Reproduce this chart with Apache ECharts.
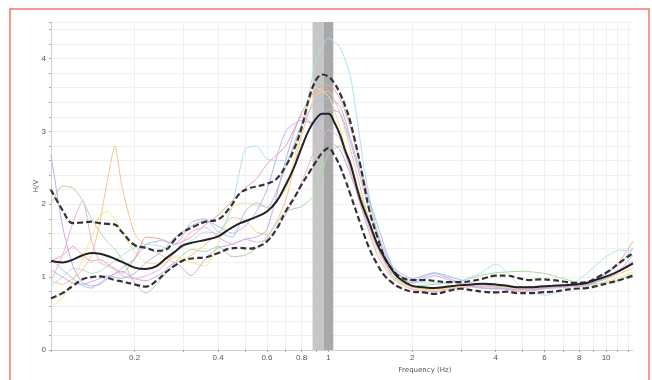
<!DOCTYPE html>
<html>
<head>
<meta charset="utf-8">
<title>H/V</title>
<script src="https://cdn.jsdelivr.net/npm/echarts@6/dist/echarts.min.js"></script>
<style>
  html, body { margin: 0; padding: 0; background: #fff; }
  #main { width: 652px; height: 380px; }
</style>
</head>
<body>
<div id="main"></div>
<script>
// frequencies (Hz) for the average curve and its +/- std curves
const freq = [0.1, 0.11, 0.12, 0.13, 0.14, 0.15, 0.16, 0.17, 0.18, 0.2, 0.22, 0.24, 0.26, 0.28,
  0.3, 0.33, 0.36, 0.4, 0.44, 0.48, 0.52, 0.56, 0.6, 0.65, 0.7, 0.75, 0.8, 0.85, 0.9, 0.95,
  1.0, 1.05, 1.1, 1.15, 1.2, 1.3, 1.4, 1.5, 1.6, 1.7, 1.8, 2.0, 2.2, 2.4, 2.7, 3.0, 3.3, 3.6,
  4.0, 4.4, 4.8, 5.3, 5.8, 6.4, 7.0, 7.7, 8.5, 9.3, 10.2, 11.2, 12.5];

const hvMean = [1.22, 1.20, 1.24, 1.30, 1.33, 1.32, 1.29, 1.25, 1.21, 1.13, 1.11, 1.15, 1.26, 1.35,
  1.44, 1.48, 1.51, 1.56, 1.66, 1.74, 1.79, 1.84, 1.90, 2.04, 2.26, 2.50, 2.78, 3.02, 3.17, 3.24,
  3.24, 3.12, 2.95, 2.73, 2.55, 2.07, 1.75, 1.45, 1.25, 1.09, 0.98, 0.88, 0.86, 0.85, 0.87, 0.89, 0.90, 0.91,
  0.90, 0.88, 0.86, 0.86, 0.87, 0.88, 0.89, 0.90, 0.92, 0.97, 1.02, 1.09, 1.19];

const hvUpper = [2.20, 1.92, 1.74, 1.75, 1.76, 1.74, 1.73, 1.72, 1.62, 1.44, 1.40, 1.36, 1.38, 1.52,
  1.62, 1.70, 1.76, 1.79, 1.95, 2.15, 2.22, 2.25, 2.28, 2.35, 2.52, 2.75, 3.05, 3.45, 3.70, 3.78,
  3.75, 3.66, 3.52, 3.34, 3.12, 2.55, 1.93, 1.55, 1.25, 1.10, 1.01, 0.96, 0.96, 0.95, 0.93, 0.93, 0.95, 0.98,
  1.02, 1.02, 0.99, 0.96, 0.97, 0.96, 0.94, 0.92, 0.93, 1.00, 1.08, 1.20, 1.33];

const hvLower = [0.71, 0.78, 0.88, 0.97, 1.00, 1.01, 0.99, 0.96, 0.94, 0.90, 0.87, 0.95, 1.07, 1.16,
  1.23, 1.26, 1.27, 1.33, 1.39, 1.40, 1.39, 1.42, 1.49, 1.66, 1.90, 2.08, 2.27, 2.43, 2.58, 2.71,
  2.77, 2.67, 2.52, 2.33, 2.13, 1.74, 1.40, 1.17, 1.01, 0.92, 0.86, 0.80, 0.79, 0.77, 0.81, 0.84, 0.82, 0.80,
  0.79, 0.80, 0.78, 0.78, 0.79, 0.80, 0.82, 0.84, 0.85, 0.88, 0.92, 0.96, 1.02];

// frequencies (Hz) for the individual time windows
const freqWin = [0.1, 0.11, 0.12, 0.13, 0.14, 0.15, 0.16, 0.17, 0.18, 0.2,
  0.22, 0.25, 0.28, 0.32, 0.36, 0.4, 0.45, 0.5, 0.55, 0.6,
  0.7, 0.8, 0.9, 1.0, 1.1, 1.2, 1.35, 1.5, 1.7, 2.0,
  2.4, 3.0, 3.5, 4.0, 5.0, 6.0, 7.0, 8.5, 10, 11.2, 12.5];

const winRed = [1.22, 1.30, 1.42, 1.30, 1.22, 1.24, 1.18, 1.12, 1.05, 1.25,
  1.55, 1.52, 1.45, 1.55, 1.72, 1.85, 2.05, 2.22, 2.35, 2.55,
  2.80, 3.25, 3.58, 3.64, 3.45, 3.05, 2.30, 1.62, 1.12, 0.88,
  0.82, 0.86, 0.87, 0.86, 0.80, 0.84, 0.88, 0.92, 1.05, 1.22, 1.49];
const winOrange = [0.95, 0.90, 0.98, 1.10, 1.30, 1.75, 2.35, 2.80, 2.25, 1.60,
  1.42, 1.30, 1.20, 1.30, 1.45, 1.60, 1.82, 1.78, 1.62, 1.58,
  2.05, 2.95, 3.50, 3.55, 3.25, 2.75, 2.00, 1.42, 1.02, 0.86,
  0.84, 0.88, 0.90, 0.88, 0.84, 0.86, 0.88, 0.90, 0.98, 1.05, 1.12];
const winYellow = [0.58, 0.72, 0.95, 1.25, 1.55, 1.85, 1.90, 1.80, 1.62, 1.35,
  1.20, 1.18, 1.28, 1.20, 1.15, 1.45, 1.95, 2.02, 1.98, 1.97,
  2.20, 3.05, 3.60, 3.48, 3.05, 2.45, 1.80, 1.35, 1.00, 0.84,
  0.82, 0.87, 0.88, 0.87, 0.85, 0.86, 0.86, 0.88, 0.94, 1.00, 1.07];
const winGreen = [2.00, 2.25, 2.22, 2.05, 1.80, 1.62, 1.48, 1.38, 1.25, 0.92,
  0.78, 0.98, 1.20, 1.38, 1.35, 1.42, 1.28, 1.30, 1.40, 1.55,
  1.90, 1.97, 2.15, 2.70, 2.80, 2.50, 1.95, 1.45, 1.02, 0.88,
  0.90, 0.95, 1.02, 1.06, 1.08, 1.05, 0.98, 0.90, 0.92, 0.96, 1.05];
const winCyan = [0.88, 1.00, 1.12, 1.10, 1.05, 1.08, 1.15, 1.22, 1.30, 1.40,
  1.45, 1.42, 1.35, 1.50, 1.62, 1.60, 2.00, 2.75, 2.80, 2.62,
  2.60, 3.07, 3.95, 4.28, 4.15, 3.75, 2.45, 1.60, 1.14, 0.92,
  0.92, 0.95, 1.05, 1.18, 0.85, 0.75, 0.82, 1.05, 1.28, 1.37, 1.36];
const winBlue = [1.25, 1.10, 0.98, 0.88, 0.85, 0.92, 1.00, 1.05, 1.12, 1.25,
  1.45, 1.50, 1.45, 1.75, 1.80, 1.62, 1.55, 1.90, 2.02, 1.95,
  2.50, 3.10, 3.40, 3.45, 3.35, 2.90, 2.25, 1.72, 1.15, 0.98,
  1.06, 0.96, 0.90, 0.88, 0.86, 0.85, 0.86, 0.92, 1.05, 1.18, 1.40];
const winPurple = [2.68, 1.70, 1.15, 0.92, 0.88, 0.90, 0.98, 1.05, 1.08, 0.98,
  0.95, 1.05, 1.20, 1.02, 1.25, 1.40, 1.45, 1.52, 1.55, 1.65,
  2.60, 3.20, 3.08, 2.88, 2.75, 2.40, 1.85, 1.40, 1.05, 0.92,
  1.02, 0.90, 0.85, 0.84, 0.86, 0.88, 0.87, 0.88, 1.00, 1.10, 1.30];
const winPink = [0.95, 1.30, 1.75, 2.05, 1.50, 1.20, 1.15, 1.10, 1.02, 0.98,
  1.02, 1.12, 1.35, 1.62, 1.68, 1.55, 1.45, 1.52, 1.48, 1.52,
  1.85, 2.30, 2.78, 3.02, 2.90, 2.45, 1.80, 1.30, 0.98, 0.83,
  0.80, 0.86, 0.88, 0.86, 0.82, 0.84, 0.86, 0.90, 0.98, 1.08, 1.18];
const winLavender = [1.10, 1.00, 0.92, 0.90, 0.94, 0.98, 1.02, 1.00, 0.98, 1.05,
  1.20, 1.35, 1.55, 1.70, 1.78, 1.70, 1.60, 1.70, 1.90, 2.20,
  3.00, 3.15, 3.10, 3.30, 3.25, 2.85, 2.15, 1.55, 1.10, 0.95,
  1.05, 0.92, 0.86, 0.84, 0.83, 0.85, 0.88, 0.90, 0.98, 1.10, 1.22];

// f0 peak and its std band (Hz)
const f0 = 0.96;
const f0Low = 0.876;
const f0High = 1.04;

const xTicks = [0.1, 0.2, 0.3, 0.4, 0.5, 0.6, 0.7, 0.8, 0.9, 1, 2, 3, 4, 5, 6, 7, 8, 9, 10, 11, 12];
const xLabels = [0.2, 0.4, 0.6, 0.8, 1, 2, 4, 6, 8, 10];

const windows = [winRed, winOrange, winYellow, winGreen, winCyan, winBlue, winPurple, winPink, winLavender];
const winColors = ['#f2a0a0', '#f9c18e', '#f2e58a', '#a6d99d', '#aee0f0', '#a7bfec', '#c9a8e6', '#ecaedb', '#b9b4ea'];

const pairs = (xs, ys) => xs.map((f, i) => [f, ys[i]]);

let myChart = echarts.init(document.getElementById('main'));

let _series = [];
// peak band, drawn behind the curves
_series.push({
  type: 'line',
  data: [],
  z: 1,
  silent: true,
  markArea: {
    silent: true,
    data: [
      [{ xAxis: f0Low, itemStyle: { color: '#c6c6c6' } }, { xAxis: f0 }],
      [{ xAxis: f0, itemStyle: { color: '#a9a9a9' } }, { xAxis: f0High }]
    ]
  }
});
windows.forEach((w, i) => {
  _series.push({
    type: 'line',
    data: pairs(freqWin, w),
    showSymbol: false,
    smooth: 0.2,
    z: 3,
    lineStyle: { color: winColors[i], width: 1 }
  });
});
[hvUpper, hvLower].forEach((d) => {
  _series.push({
    type: 'line',
    data: pairs(freq, d),
    showSymbol: false,
    smooth: 0.4,
    z: 5,
    lineStyle: { color: '#333', width: 2.2, type: [6, 3] }
  });
});
_series.push({
  type: 'line',
  data: pairs(freq, hvMean),
  showSymbol: false,
  smooth: 0.4,
  z: 6,
  lineStyle: { color: '#222', width: 2 }
});

const option = {
  animation: false,
  grid: { left: 51, right: 19, top: 22, bottom: 30 },
  xAxis: {
    type: 'log',
    logBase: 10,
    min: 0.1,
    max: 12.5,
    name: 'Frequency (Hz)',
    nameLocation: 'middle',
    nameGap: 14,
    nameTextStyle: { fontSize: 7, color: '#555', fontFamily: 'DejaVu Sans', padding: [0, 0, 0, 166] },
    axisLine: { show: true, lineStyle: { color: '#d0d0d0' } },
    axisTick: { show: true, customValues: xTicks, length: 2, lineStyle: { color: '#aaa' } },
    axisLabel: {
      customValues: xLabels,
      fontSize: 8,
      color: '#555',
      margin: 4,
      formatter: (v) => String(+Number(v).toFixed(2))
    },
    splitLine: { show: true, lineStyle: { color: '#efefef' } }
  },
  yAxis: {
    type: 'value',
    min: 0,
    max: 4.5,
    interval: 0.2,
    name: 'H/V',
    nameLocation: 'middle',
    nameGap: 11,
    nameMoveOverlap: false,
    nameTextStyle: { fontSize: 7, color: '#555', fontFamily: 'DejaVu Sans' },
    axisLine: { show: true, lineStyle: { color: '#d0d0d0' } },
    axisTick: { show: true, length: 2, lineStyle: { color: '#aaa' } },
    axisLabel: {
      fontSize: 8,
      color: '#555',
      margin: 5,
      formatter: (v) => Math.abs(v - Math.round(v)) < 1e-6 ? String(Math.round(v)) : ''
    },
    splitLine: { show: true, lineStyle: { color: '#efefef' } }
  },
  graphic: [{
    type: 'rect',
    silent: true,
    shape: { x: 10, y: 9, width: 639, height: 400 },
    style: { fill: 'none', stroke: '#ef7b6b', lineWidth: 1.5 }
  }],
  series: _series
};

myChart.setOption(option);
</script>
</body>
</html>
